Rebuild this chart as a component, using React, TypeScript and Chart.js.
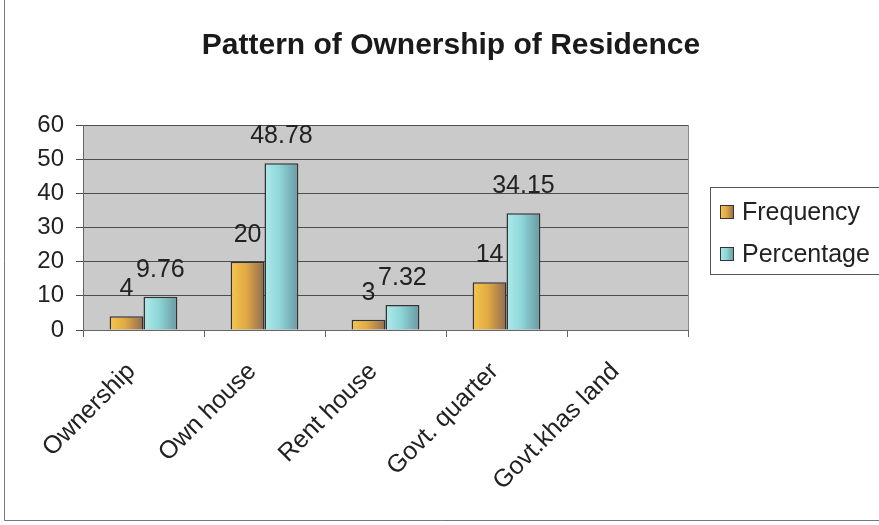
import React, { useEffect, useRef } from "react";
import { Chart, registerables } from "chart.js";

Chart.register(...registerables);

const TITLE = "Pattern of Ownership of Residence";
const categories = ["Ownership", "Own house", "Rent house", "Govt. quarter", "Govt.khas land"];
const frequency: (number | null)[] = [4, 20, 3, 14, null];
const percentage: (number | null)[] = [9.76, 48.78, 7.32, 34.15, null];
const seriesNames = ["Frequency", "Percentage"];
const yTicks = { min: 0, max: 60, step: 10 };

const FONT = "'Liberation Sans', Arial, sans-serif";
const GRADS = [
  ["#F6C64C", "#E2A944", "#8E6C52"],
  ["#AEEAEA", "#8ED6D8", "#6A98A2"],
];

function grad(ctx: CanvasRenderingContext2D, x0: number, x1: number, cols: string[]) {
  const g = ctx.createLinearGradient(x0, 0, x1, 0);
  g.addColorStop(0, cols[0]);
  g.addColorStop(0.45, cols[1]);
  g.addColorStop(1, cols[2]);
  return g;
}

const decor = {
  id: "decor",
  beforeDraw(chart: any) {
    const { ctx, chartArea: a } = chart;
    ctx.save();
    ctx.fillStyle = "#FFFFFF";
    ctx.fillRect(0, 0, chart.width, chart.height);
    ctx.fillStyle = "#CACACA";
    ctx.fillRect(a.left, a.top, a.right - a.left, a.bottom - a.top);
    ctx.strokeStyle = "#8A8A8A";
    ctx.lineWidth = 1;
    ctx.strokeRect(a.left + 0.5, a.top + 0.5, a.right - a.left, a.bottom - a.top);
    // outer chart border
    ctx.strokeStyle = "#777";
    ctx.beginPath();
    ctx.moveTo(4.5, 0);
    ctx.lineTo(4.5, 520.5);
    ctx.lineTo(879, 520.5);
    ctx.stroke();
    // title
    ctx.fillStyle = "#1a1a1a";
    ctx.font = `bold 30px ${FONT}`;
    ctx.textAlign = "center";
    ctx.textBaseline = "middle";
    ctx.fillText(TITLE, 451, 46);
    ctx.restore();
  },
  beforeDatasetsDraw(chart: any) {
    const ctx = chart.ctx;
    chart.data.datasets.forEach((_: any, di: number) => {
      const meta = chart.getDatasetMeta(di);
      meta.data.forEach((el: any) => {
        if (el.x == null || isNaN(el.y)) return;
        const x0 = el.x - el.width / 2;
        const x1 = el.x + el.width / 2;
        el.options = Object.assign({}, el.options, { backgroundColor: grad(ctx, x0, x1, GRADS[di]) });
      });
    });
  },
  afterDatasetsDraw(chart: any) {
    const ctx = chart.ctx;
    ctx.save();
    ctx.fillStyle = "#222";
    ctx.font = `25px ${FONT}`;
    ctx.textAlign = "center";
    ctx.textBaseline = "alphabetic";
    chart.data.datasets.forEach((ds: any, di: number) => {
      const meta = chart.getDatasetMeta(di);
      meta.data.forEach((el: any, i: number) => {
        const v = ds.data[i];
        if (v == null) return;
        ctx.fillText(String(v), el.x, el.y - 20);
      });
    });
    // legend
    ctx.strokeStyle = "#555";
    ctx.lineWidth = 1;
    ctx.strokeRect(710.5, 187.5, 190, 87);
    ctx.textAlign = "left";
    ctx.textBaseline = "middle";
    ctx.font = `25px ${FONT}`;
    seriesNames.forEach((name, i) => {
      const cy = 212 + i * 42;
      ctx.fillStyle = grad(ctx, 720, 734, GRADS[i]);
      ctx.fillRect(720, cy - 7, 14, 14);
      ctx.strokeStyle = "#333";
      ctx.strokeRect(720.5, cy - 6.5, 13, 13);
      ctx.fillStyle = "#222";
      ctx.fillText(name, 742, cy + 1);
    });
    ctx.restore();
  },
};

export default function App() {
  const ref = useRef<HTMLCanvasElement>(null);
  useEffect(() => {
    if (!ref.current) return;
    const chart = new Chart(ref.current, {
      type: "bar",
      data: {
        labels: categories,
        datasets: [
          { label: seriesNames[0], data: frequency, backgroundColor: GRADS[0][1], borderColor: "#333", borderWidth: 1.5 },
          { label: seriesNames[1], data: percentage, backgroundColor: GRADS[1][1], borderColor: "#333", borderWidth: 1.5 },
        ],
      },
      options: {
        responsive: false,
        animation: false,
        devicePixelRatio: 1,
        layout: { padding: { left: 0, top: 125, right: 191, bottom: 0 } },
        datasets: { bar: { barPercentage: 1, categoryPercentage: 0.56 } },
        plugins: { legend: { display: false }, tooltip: { enabled: false }, title: { display: false } },
        scales: {
          x: {
            afterFit: (s: any) => { s.height = 195; },
            grid: { display: true, drawOnChartArea: false, drawTicks: true, tickLength: 7, color: "#666", offset: true },
            border: { display: true, color: "#666" },
            ticks: { minRotation: 45, maxRotation: 45, padding: 20, labelOffset: -12, color: "#222", font: { family: FONT, size: 25 } },
          },
          y: {
            min: yTicks.min,
            max: yTicks.max,
            afterFit: (s: any) => { s.width = 83; },
            grid: { color: "#4d4d4d", lineWidth: 1, tickLength: 7, drawTicks: true },
            border: { display: true, color: "#666" },
            ticks: { stepSize: yTicks.step, padding: 12, color: "#222", font: { family: FONT, size: 24 } },
          },
        },
      },
      plugins: [decor],
    });
    return () => chart.destroy();
  }, []);
  return (
    <div style={{ position: "fixed", left: 0, top: 0, width: 879, height: 525 }}>
      <canvas ref={ref} width={879} height={525} style={{ width: 879, height: 525 }} />
    </div>
  );
}
